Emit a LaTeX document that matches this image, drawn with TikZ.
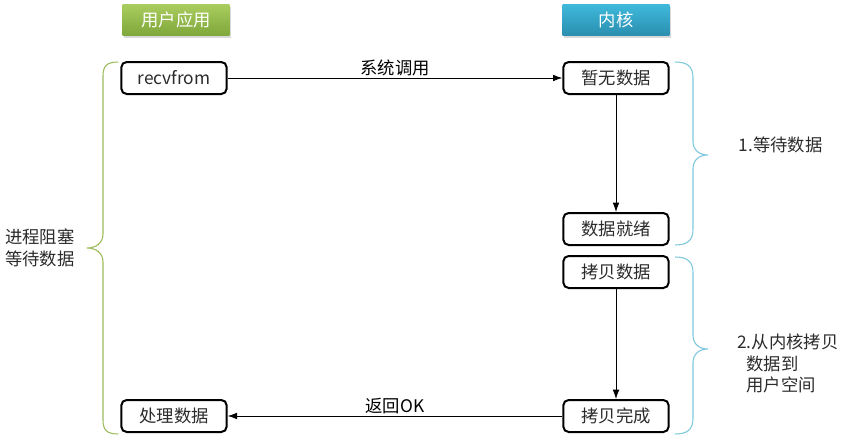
\documentclass[tikz,border=0pt]{standalone}
\usepackage{fontspec}
\setmainfont{Noto Sans CJK SC}
\usetikzlibrary{arrows.meta,positioning,shadows}
\definecolor{AppGreen}{HTML}{9BBB59}
\definecolor{AppGreenTop}{HTML}{A9CC5E}
\definecolor{AppGreenLow}{HTML}{7FA73A}
\definecolor{KernBlueTop}{HTML}{3FB8DA}
\definecolor{KernBlueLow}{HTML}{2A8FB0}
\definecolor{BraceBlue}{HTML}{7CC7DC}
\definecolor{TextGray}{HTML}{2B2B2B}

\begin{document}
\begin{tikzpicture}[x=0.75pt,y=-0.75pt,
    font=\fontsize{13}{16}\selectfont, text=TextGray,
    stepbox/.style={draw=black, line width=1.5pt, rounded corners=4pt,
      minimum width=79pt, minimum height=24pt, inner sep=0pt, fill=white},
    headbox/.style={minimum width=80pt, minimum height=23pt, inner sep=0pt,
      text=white, drop shadow={opacity=0.3, shadow xshift=1pt, shadow yshift=-2pt}},
    flow/.style={-{Latex[length=7pt,width=5pt]}, line width=0.6pt, black}]
  \useasboundingbox (0,0) rectangle (847,446);

  % column headers
  \node[headbox, top color=AppGreenTop, bottom color=AppGreenLow] (app) at (176,20) {用户应用};
  \node[headbox, top color=KernBlueTop, bottom color=KernBlueLow] (kern) at (616,20) {内核};

  % user side
  \node[stepbox] (recv) at (174,78) {recvfrom};
  \node[stepbox] (handle) at (174,416) {处理数据};

  % kernel side
  \node[stepbox] (nodata) at (616,78) {暂无数据};
  \node[stepbox] (ready) at (616,229) {数据就绪};
  \node[stepbox] (copy) at (616,272) {拷贝数据};
  \node[stepbox] (done) at (616,416) {拷贝完成};

  \draw[flow] (recv) -- node[above, yshift=-2pt] {系统调用} (nodata);
  \draw[flow] (nodata) -- (ready);
  \draw[flow] (copy) -- (done);
  \draw[flow] (done) -- node[above, yshift=-2pt] {返回OK} (handle);

  % left brace
  \draw[AppGreen, line width=0.8pt]
    (118,62) .. controls (107,62) and (103,66) .. (103,76) -- (103,234)
    .. controls (103,243) and (96,248) .. (87,248)
    .. controls (96,248) and (103,253) .. (103,262) -- (103,420)
    .. controls (103,430) and (107,434) .. (118,434);
  \node[align=center] (block) at (40,248) {进程阻塞\\等待数据};

  % right braces
  \foreach \t/\m/\b in {62/155/245, 257/349/434}
    \draw[BraceBlue, line width=0.8pt]
      (675,\t) .. controls (688,\t) and (693,\t+5) .. (693,\t+16) -- (693,\m-14)
      .. controls (693,\m-5) and (699,\m) .. (708,\m)
      .. controls (699,\m) and (693,\m+5) .. (693,\m+14) -- (693,\b-16)
      .. controls (693,\b-5) and (688,\b) .. (675,\b);

  \node[anchor=west] (wait) at (734,145) {1.等待数据};
  \node[anchor=north west, align=left, inner sep=0pt] (copynote) at (737,334)
    {2.从内核拷贝\\\hspace{7pt}数据到\\\hspace{7pt}用户空间};
\end{tikzpicture}
\end{document}
